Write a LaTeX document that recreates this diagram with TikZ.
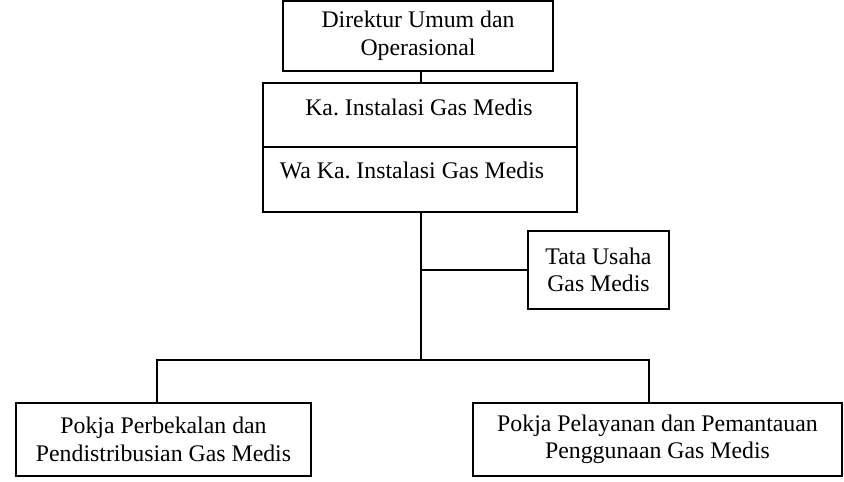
\documentclass[tikz,border=0pt]{standalone}
\usepackage{fontspec}
\setmainfont{Liberation Serif}
\usetikzlibrary{positioning}
\frenchspacing

\begin{document}
\begin{tikzpicture}[x=1pt, y=-1pt, line width=1.6pt]
\tikzstyle{box} = [rectangle, draw, inner sep=0pt, align=center, font=\fontsize{23.8}{27.5}\selectfont]
\tikzstyle{txt} = [inner sep=0pt, align=center, font=\fontsize{23.8}{27.5}\selectfont]

\useasboundingbox (0,0) rectangle (844,482);

% Pimpinan
\node [box, minimum width=270, minimum height=70] (direktur) at (418,36) {Direktur Umum dan\\Operasional};

\node [box, minimum width=314, minimum height=64] (ka) at (420,115) {};
\node [box, minimum width=314, minimum height=65, below=-1.6pt of ka] (wa) {};
\node [txt] (katext) at (419,107) {Ka. Instalasi Gas Medis};
\node [txt] (watext) at (412,170) {Wa Ka. Instalasi Gas Medis};

\node [box, minimum width=141, minimum height=78] (tatausaha) at (598.5,270) {Tata Usaha\\Gas Medis};

% Pokja
\node [box, minimum width=295, minimum height=73] (perbekalan) at (163.5,439.5) {Pokja Perbekalan dan\\Pendistribusian Gas Medis};
\node [box, minimum width=369, minimum height=73] (pelayanan) at (657.5,439.5) {Pokja Pelayanan dan Pemantauan\\Penggunaan Gas Medis};

\coordinate (bus) at (421,360);

% Garis
\draw (ka.north -| bus) -- (direktur.south -| bus);
\draw (wa.south -| bus) -- (bus);
\draw (tatausaha.west -| bus) -- (tatausaha.west);
\draw ([xshift=-6.5pt]perbekalan.north) |- (bus) -| ([xshift=-8.5pt]pelayanan.north);

\end{tikzpicture}
\end{document}
